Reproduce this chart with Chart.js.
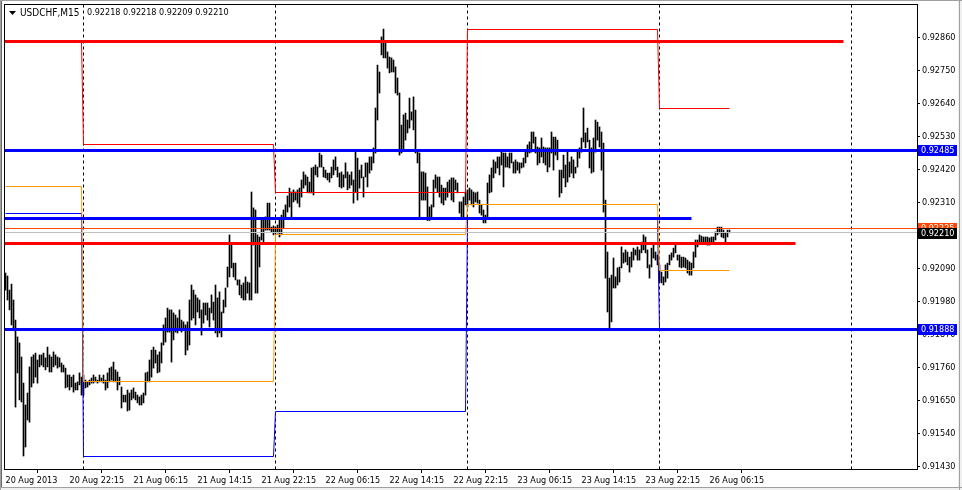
<!DOCTYPE html>
<html><head><meta charset="utf-8">
<script src="https://cdn.jsdelivr.net/npm/chart.js@4.4.1/dist/chart.umd.min.js"></script>
<style>html,body{margin:0;padding:0;background:#fff;overflow:hidden}canvas{display:block}</style>
</head><body>
<canvas id="c" width="962" height="490"></canvas>
<script>
// ---------- DATA ----------
const symbolTitle = "USDCHF,M15";
const ohlcTitle = "0.92218 0.92218 0.92209 0.92210";

// M15 bars, 20 Aug 2013 14:15 .. 26 Aug 2013 08:30 (index = bar number)
const barHighs = [
0.92075,0.92065,0.92018,0.92038,0.91985,0.91918,0.91862,0.91842,0.91795,0.91708,
0.91635,0.91675,0.91762,0.91795,0.91802,0.91808,0.91785,0.91802,0.91802,0.91808,
0.91792,0.91828,0.91802,0.91795,0.91812,0.91802,0.91795,0.91792,0.91775,0.91768,
0.91758,0.91735,0.91735,0.91728,0.91735,0.91708,0.91712,0.91742,0.91728,
0.91735,0.91718,0.91712,0.91718,0.91725,0.91735,0.91728,0.91718,0.91735,0.91725,
0.91735,0.91718,0.91742,0.91758,0.91762,0.91778,0.91752,0.91745,0.91728,0.91695,
0.91668,0.91668,0.91685,0.91675,0.91685,0.91692,0.91678,0.91668,0.91662,0.91668,
0.91675,0.91742,0.91745,0.91785,0.91818,0.91828,0.91818,0.91802,0.91812,0.91842,
0.91902,0.91925,0.91958,0.91952,0.91952,0.91942,0.91935,0.91925,0.91952,0.91918,
0.91912,0.91902,0.91912,0.91985,0.92035,0.92018,0.92002,0.91992,0.91985,0.91952,
0.91975,0.91975,0.91975,0.91958,0.92002,0.91978,0.92035,0.91992,0.92012,0.91945,
0.91985,0.92025,0.92095,0.92202,0.92175,0.92108,0.92108,0.92052,0.92052,0.92035,
0.92042,0.92062,0.92045,0.92042,0.92345,0.92292,0.92285,0.92202,0.92195,0.92252,
0.92252,0.92262,0.92308,0.92308,0.92228,0.92232,
0.92228,0.92235,0.92252,0.92268,0.92285,0.92302,0.92332,0.92358,0.92345,0.92352,
0.92345,0.92352,0.92358,0.92385,0.92412,0.92402,0.92395,0.92378,0.92425,0.92428,
0.92435,0.92428,0.92475,0.92468,0.92428,0.92418,0.92408,0.92408,0.92428,0.92452,
0.92462,0.92428,0.92408,0.92412,0.92402,0.92442,0.92412,0.92402,0.92412,0.92385,
0.92478,0.92458,0.92418,0.92435,0.92395,0.92442,0.92442,0.92462,0.92462,0.92492,
0.92625,0.92768,0.92745,0.92862,0.92888,0.92845,0.92812,0.92795,0.92792,0.92785,
0.92762,0.92725,0.92675,0.92568,0.92602,0.92608,0.92585,0.92658,0.92612,0.92662,
0.92618,0.92478,0.92475,0.92412,0.92412,0.92408,0.92362,0.92295,0.92302,0.92385,
0.92402,0.92395,0.92395,0.92368,0.92358,0.92358,0.92378,0.92385,0.92392,0.92392,
0.92385,0.92375,0.92312,0.92312,0.92328,0.92345,
0.92352,0.92358,0.92352,0.92345,0.92342,0.92345,0.92318,0.92302,0.92285,0.92268,
0.92375,0.92402,0.92425,0.92452,0.92445,0.92462,0.92462,0.92478,0.92475,0.92475,
0.92462,0.92475,0.92475,0.92445,0.92452,0.92445,0.92442,0.92442,0.92458,0.92478,
0.92502,0.92512,0.92545,0.92545,0.92528,0.92495,0.92492,0.92525,0.92495,0.92492,
0.92492,0.92492,0.92545,0.92528,0.92528,0.92518,0.92418,0.92418,0.92468,0.92435,
0.92478,0.92445,0.92462,0.92452,0.92428,0.92478,0.92492,0.92525,0.92625,0.92542,
0.92558,0.92518,0.92492,0.92525,0.92585,0.92578,0.92562,0.92545,0.92508,0.92318,
0.92145,0.92058,0.92068,0.92125,0.92062,0.92092,0.92095,0.92162,0.92142,0.92152,
0.92145,0.92128,0.92145,0.92158,0.92152,0.92162,0.92152,0.92178,0.92202,0.92195,
0.92152,0.92102,0.92158,0.92168,0.92145,0.92135,
0.92102,0.92078,0.92062,0.92102,0.92108,0.92135,0.92142,0.92158,0.92168,0.92135,
0.92135,0.92128,0.92128,0.92125,0.92118,0.92112,0.92108,0.92145,0.92185,0.92185,
0.92202,0.92198,0.92195,0.92195,0.92195,0.92192,0.92195,0.92195,0.92212,0.92228,
0.92228,0.92228,0.92218,0.92208,0.92218,0.92218
];
const barLows = [
0.92018,0.91985,0.91952,0.91902,0.91885,0.91628,0.91742,0.91652,0.91645,0.91465,
0.91495,0.91585,0.91578,0.91695,0.91708,0.91728,0.91708,0.91762,0.91768,0.91762,
0.91752,0.91762,0.91745,0.91745,0.91762,0.91768,0.91758,0.91762,0.91745,0.91745,
0.91692,0.91695,0.91685,0.91695,0.91678,0.91685,0.91685,0.91702,0.91668,
0.91668,0.91692,0.91695,0.91702,0.91708,0.91708,0.91712,0.91708,0.91712,0.91712,
0.91708,0.91685,0.91692,0.91712,0.91718,0.91712,0.91712,0.91685,0.91702,0.91625,
0.91645,0.91645,0.91615,0.91618,0.91652,0.91658,0.91652,0.91642,0.91635,0.91635,
0.91642,0.91668,0.91712,0.91712,0.91728,0.91758,0.91775,0.91742,0.91745,0.91775,
0.91835,0.91845,0.91878,0.91878,0.91778,0.91852,0.91878,0.91875,0.91885,0.91878,
0.91885,0.91802,0.91818,0.91835,0.91918,0.91925,0.91902,0.91945,0.91925,0.91868,
0.91908,0.91935,0.91918,0.91895,0.91942,0.91918,0.91875,0.91862,0.91875,0.91862,
0.91942,0.91962,0.92028,0.92062,0.92092,0.92062,0.92052,0.92035,0.92002,0.91992,
0.91985,0.91985,0.92008,0.91985,0.91985,0.92168,0.92008,0.92008,0.92095,0.92185,
0.92175,0.92218,0.92218,0.92218,0.92212,0.92202,
0.92208,0.92208,0.92195,0.92202,0.92225,0.92258,0.92278,0.92295,0.92258,0.92312,
0.92318,0.92308,0.92295,0.92328,0.92358,0.92368,0.92342,0.92342,0.92342,0.92335,
0.92402,0.92395,0.92428,0.92428,0.92395,0.92392,0.92385,0.92378,0.92392,0.92402,
0.92418,0.92395,0.92362,0.92358,0.92362,0.92392,0.92352,0.92358,0.92368,0.92308,
0.92345,0.92318,0.92358,0.92392,0.92328,0.92395,0.92362,0.92408,0.92418,0.92442,
0.92475,0.92585,0.92675,0.92802,0.92792,0.92792,0.92758,0.92742,0.92745,0.92745,
0.92675,0.92668,0.92468,0.92475,0.92485,0.92518,0.92542,0.92558,0.92585,0.92552,
0.92475,0.92442,0.92262,0.92318,0.92318,0.92318,0.92250,0.92250,0.92262,0.92295,
0.92358,0.92345,0.92328,0.92308,0.92302,0.92318,0.92328,0.92345,0.92318,0.92312,
0.92352,0.92342,0.92275,0.92258,0.92258,0.92302,
0.92295,0.92318,0.92302,0.92295,0.92312,0.92308,0.92275,0.92268,0.92242,0.92242,
0.92258,0.92342,0.92345,0.92392,0.92408,0.92425,0.92402,0.92435,0.92362,0.92428,
0.92428,0.92425,0.92442,0.92408,0.92408,0.92418,0.92408,0.92425,0.92428,0.92442,
0.92462,0.92475,0.92478,0.92508,0.92475,0.92435,0.92442,0.92462,0.92442,0.92435,
0.92412,0.92428,0.92475,0.92418,0.92468,0.92452,0.92328,0.92342,0.92392,0.92362,
0.92378,0.92395,0.92408,0.92392,0.92408,0.92428,0.92458,0.92478,0.92512,0.92492,
0.92512,0.92425,0.92408,0.92412,0.92478,0.92518,0.92495,0.92418,0.92278,0.92058,
0.91945,0.91888,0.91912,0.92025,0.92025,0.92035,0.92045,0.92092,0.92108,0.92112,
0.92102,0.92078,0.92095,0.92118,0.92135,0.92118,0.92118,0.92142,0.92152,0.92142,
0.92092,0.92058,0.92095,0.92125,0.92118,0.92102,
0.92045,0.92042,0.92035,0.92045,0.92058,0.92102,0.92118,0.92128,0.92142,0.92118,
0.92095,0.92092,0.92095,0.92092,0.92075,0.92068,0.92068,0.92092,0.92128,0.92162,
0.92175,0.92178,0.92178,0.92175,0.92168,0.92168,0.92175,0.92172,0.92185,0.92202,
0.92208,0.92195,0.92192,0.92178,0.92195,0.92209
];

// trading days shown (first / last bar index of each day)
const dayFirstBar = [0, 39, 135, 231, 327];
const dayLastBar  = [38, 134, 230, 326, 362];
// previous-day levels drawn across each day
const prevDayHigh  = [0.92842, 0.92502, 0.92345, 0.92888, 0.92625];
const prevDayClose = [0.92365, 0.91715, 0.92202, 0.92302, 0.92085];
const prevDayLow   = [0.92275, 0.91465, 0.91615, 0.92252, 0.91888];

// period separators (bar index of each midnight)
const separatorBars = [39, 135, 231, 327, 423];

// horizontal levels: price and the bar index where each ends
const levelPrices = [0.92848, 0.92485, 0.92257, 0.92225, 0.92210, 0.92175, 0.91888];
const levelEndBar = [419, 456, 343, 456, 456, 395, 456];

// right-axis price tags
const tagPrices = [0.92485, 0.92225, 0.92210, 0.91888];

// axis ticks
const yTickValues = [0.91430,0.91540,0.91650,0.91760,0.91870,0.91980,0.92090,0.92200,0.92310,0.92420,0.92530,0.92640,0.92750,0.92860];
const xTickBars = [0,32,64,96,128,160,192,224,256,288,320,352];
const xTickLabels = ["20 Aug 2013","20 Aug 22:15","21 Aug 06:15","21 Aug 14:15","21 Aug 22:15","22 Aug 06:15","22 Aug 14:15","22 Aug 22:15","23 Aug 06:15","23 Aug 14:15","23 Aug 22:15","26 Aug 06:15"];

// ---------- STYLE ----------
const FONT = "'DejaVu Sans Condensed','DejaVu Sans',sans-serif";
const FSIZE = 9;
const X_MIN = -0.75, X_MAX = 455.75, Y_MIN = 0.9142167, Y_MAX = 0.9297167;
const levelColors = ['#ff0000','#0000ff','#0000ff','#ff4500','#c0c0c0','#ff0000','#0000ff'];
const levelWidths = [3,3,3,1,1,3,3];
const tagBg = ['#0000ff','#ff4500','#000000','#0000ff'];

function dayLine(values){
  const pts=[];
  for(let d=0; d<values.length; d++){
    pts.push({x:dayFirstBar[d], y:values[d]});
    pts.push({x:dayLastBar[d], y:values[d]});
  }
  return pts;
}
const lineBase = {type:'line', pointRadius:0, borderWidth:1, tension:0, fill:false};

const datasets = [];
separatorBars.forEach(b=>{
  datasets.push(Object.assign({}, lineBase, {data:[{x:b,y:Y_MIN},{x:b,y:Y_MAX}], borderColor:'#000', borderDash:[3,3], order:20}));
});
datasets.push({type:'bar', data: barHighs.map((h,i)=>({x:i, y:[barLows[i], h]})), backgroundColor:'#000', borderWidth:0, barThickness:1, order:15});
datasets.push(Object.assign({}, lineBase, {data:dayLine(prevDayLow), borderColor:'#0000ff', order:12}));
datasets.push(Object.assign({}, lineBase, {data:dayLine(prevDayHigh), borderColor:'#ff0000', order:11}));
datasets.push(Object.assign({}, lineBase, {data:dayLine(prevDayClose), borderColor:'#ff9900', order:10}));
levelPrices.forEach((p,k)=>{
  datasets.push(Object.assign({}, lineBase, {data:[{x:X_MIN,y:p},{x:levelEndBar[k],y:p}], borderColor:levelColors[k], borderWidth:levelWidths[k], borderCapStyle:'butt', order:5-k*0.1}));
});

// snap line vertices to the pixel grid so 1px / 3px lines render crisp
const snap = {
  id:'snap',
  afterDatasetsUpdate(chart){
    chart.data.datasets.forEach((ds,i)=>{
      if(ds.type!=='line') return;
      chart.getDatasetMeta(i).data.forEach(pt=>{
        pt.x = Math.floor(pt.x)+0.5;
        pt.y = Math.floor(pt.y)+0.5;
      });
    });
  }
};

const decor = {
  id:'decor',
  beforeDraw(chart){
    const c=chart.ctx;
    c.save();
    c.fillStyle='#fff'; c.fillRect(0,0,962,490);
    c.fillStyle='#f0f0f0'; c.fillRect(958,0,4,490); c.fillRect(0,487,962,3);
    c.fillStyle='#a0a0a0'; c.fillRect(0,0,962,1); c.fillRect(0,0,1,490); c.fillRect(959,0,1,490); c.fillRect(0,487,962,1);
    c.fillStyle='#696969'; c.fillRect(1,1,1,486);
    c.restore();
  },
  afterDraw(chart){
    const c=chart.ctx, a=chart.chartArea, ys=chart.scales.y;
    c.save();
    c.strokeStyle='#000'; c.lineWidth=1;
    c.strokeRect(Math.round(a.left)+0.5, Math.round(a.top)+0.5, Math.round(a.right-a.left), Math.round(a.bottom-a.top));
    // title
    c.fillStyle='#000';
    c.beginPath(); c.moveTo(9,11); c.lineTo(16,11); c.lineTo(12.5,15); c.closePath(); c.fill();
    c.textBaseline='middle'; c.textAlign='left';
    c.font='10px '+FONT;
    c.fillText(symbolTitle, 20, 13);
    c.font=FSIZE+'px '+FONT;
    c.fillText(ohlcTitle, 87, 13);
    // price tags
    tagPrices.forEach((p,k)=>{
      const y=Math.round(ys.getPixelForValue(p));
      c.fillStyle=tagBg[k];
      c.fillRect(918, y-5, 39, 11);
      c.fillStyle='#fff';
      c.fillText(p.toFixed(5), 921, y+0.5);
    });
    c.restore();
  }
};

new Chart(document.getElementById('c'), {
  type:'bar',
  data:{datasets},
  options:{
    responsive:false, animation:false, events:[],
    layout:{padding:{left:4, top:4, right:0, bottom:0}},
    plugins:{legend:{display:false}, tooltip:{enabled:false}, title:{display:false}},
    scales:{
      x:{type:'linear', position:'bottom', min:X_MIN, max:X_MAX, offset:false,
        afterBuildTicks(s){ s.ticks = xTickBars.map(v=>({value:v})); },
        afterFit(s){ s.height=21; s.paddingLeft=0; s.paddingRight=0; },
        grid:{display:true, drawOnChartArea:false, drawTicks:true, tickLength:4, color:'#000', lineWidth:1},
        border:{display:false},
        ticks:{autoSkip:false, maxRotation:0, minRotation:0, align:'start', padding:2, color:'#000', font:{family:FONT, size:FSIZE},
          callback:(v,i)=>xTickLabels[i]}
      },
      y:{type:'linear', position:'right', min:Y_MIN, max:Y_MAX,
        afterBuildTicks(s){ s.ticks = yTickValues.map(v=>({value:v})); },
        afterFit(s){ s.width=45; s.paddingTop=0; s.paddingBottom=0; },
        grid:{display:true, drawOnChartArea:false, drawTicks:true, tickLength:3, color:'#000', lineWidth:1},
        border:{display:false},
        ticks:{autoSkip:false, padding:2, color:'#000', font:{family:FONT, size:FSIZE}, callback:v=>Number(v).toFixed(5)}
      }
    }
  },
  plugins:[snap, decor]
});
</script>
</body></html>
